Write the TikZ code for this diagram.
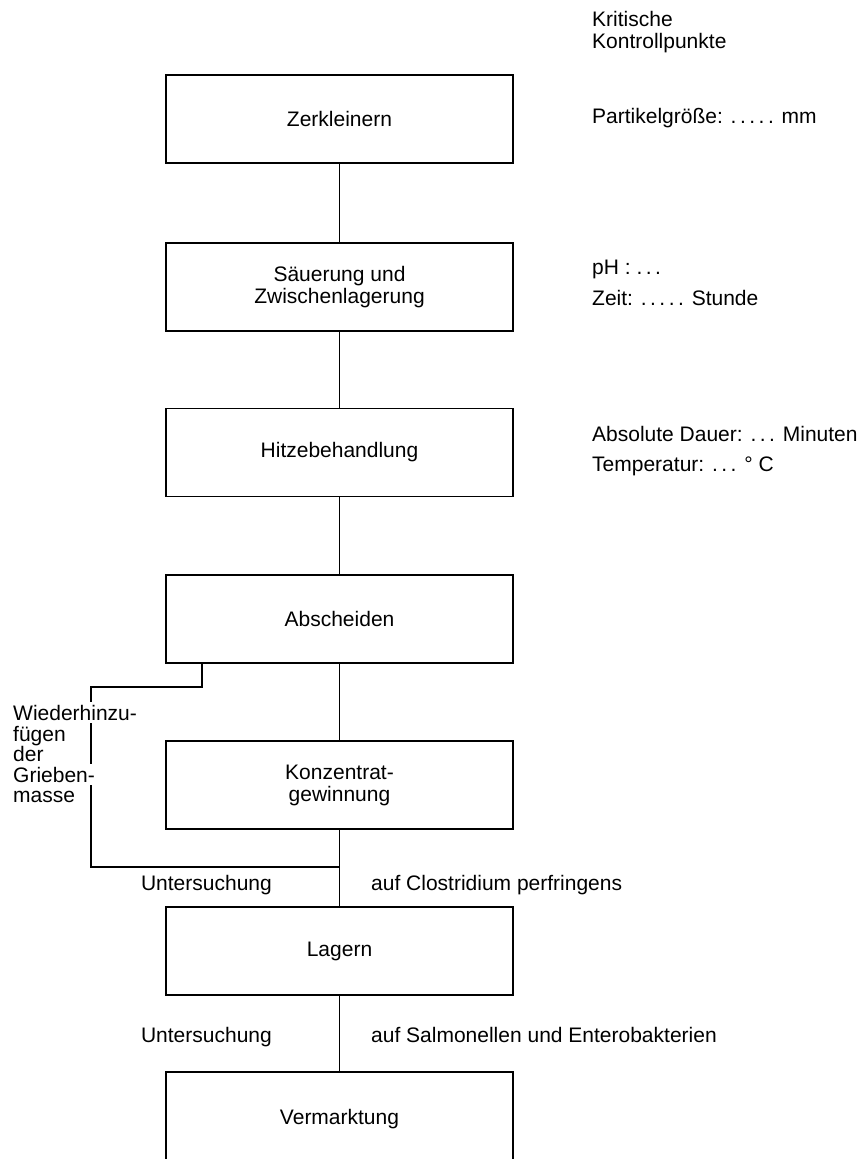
\documentclass[tikz,border=0pt]{standalone}
\usepackage{fontspec}
\setmainfont{Liberation Sans}
\begin{document}
\begin{tikzpicture}[x=1pt,y=-1pt,
  every node/.style={font=\fontsize{21}{22}\selectfont},
  box/.style={draw, line width=1.6pt, minimum width=347pt, minimum height=88pt, inner sep=0pt, align=center},
  conn/.style={line width=1.6pt},
  lbl/.style={inner sep=0pt, anchor=base west},
  lble/.style={inner sep=0pt, anchor=base east},
  cut/.style={lbl, fill=white, inner ysep=3pt}]
\useasboundingbox (0,0) rectangle (859,1159);
\clip (0,0) rectangle (859,1159);
% process boxes
\node[box] (b1) at (339.5,119) {Zerkleinern};
\node[box] (b2) at (339.5,287) {Säuerung und\\Zwischenlagerung};
\node[box] (b3) at (339.5,452.5) {Hitzebehandlung};
\node[box] (b4) at (339.5,619) {Abscheiden};
\node[box] (b5) at (339.5,785) {Konzentrat-\\gewinnung};
\node[box] (b6) at (339.5,951) {Lagern};
\node[box, minimum height=94pt] (b7) at (339.5,1119) {Vermarktung};
% connectors
\coordinate (j) at (339.5,867);
\coordinate (bl) at (91,687);
\draw[conn] (b1.south) -- (b2.north);
\draw[conn] (b2.south) -- (b3.north);
\draw[conn] (b3.south) -- (b4.north);
\draw[conn] (b4.south) -- (b5.north);
\draw[conn] (b5.south) -- (b6.north);
\draw[conn] (b6.south) -- (b7.north);
\draw[conn] ([xshift=37pt]b4.south west) |- (bl) |- (j);
% left recycle label
\node[cut] (w1) at (13,720) {Wiederhinzu-};
\node[lbl] (w2) at (13,741) {fügen};
\node[lbl] (w3) at (13,761) {der};
\node[cut] (w4) at (13,782) {Grieben-};
\node[lbl] (w5) at (13,802) {masse};
% examination labels
\node[lble] (u1) at (272,890) {Untersuchung};
\node[lbl] (a1) at (371,890) {auf Clostridium perfringens};
\node[lble] (u2) at (272,1042) {Untersuchung};
\node[lbl] (a2) at (371,1042) {auf Salmonellen und Enterobakterien};
% critical control points
\node[lbl] (k1) at (592,26.5) {Kritische};
\node[lbl] (k2) at (592,48.5) {Kontrollpunkte};
\node[lbl] (p1) at (592,123.5) {Partikelgröße: .\,.\,.\,.\,. mm};
\node[lbl] (p2) at (592,274.5) {pH : .\,.\,.};
\node[lbl] (p3) at (592,305.5) {Zeit: .\,.\,.\,.\,. Stunde};
\node[lbl] (p4) at (592,441.5) {Absolute Dauer: .\,.\,. Minuten};
\node[lbl] (p5) at (592,471.5) {Temperatur: .\,.\,. ° C};
\end{tikzpicture}
\end{document}
